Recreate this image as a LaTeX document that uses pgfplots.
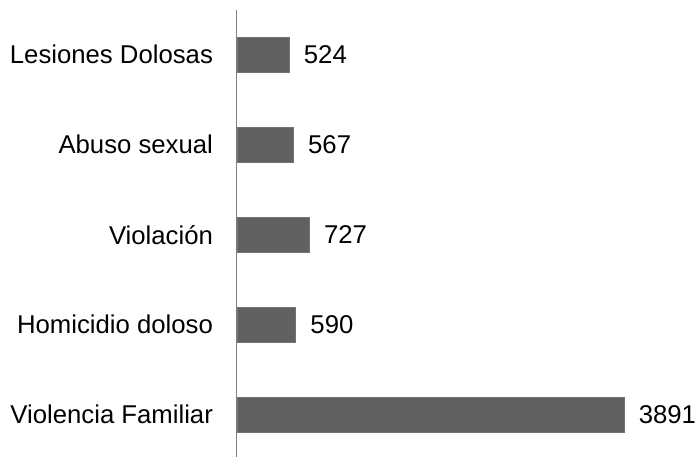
\documentclass[border=0pt]{standalone}
\usepackage{fontspec}
\setmainfont{Liberation Sans}
\usepackage{pgfplots}
\pgfplotsset{compat=1.18}

\begin{document}
\begin{tikzpicture}
\begin{axis}[
    at={(0,0)}, anchor=south west,
    scale only axis,
    width=343.3pt, height=335.2pt,
    xbar, bar width=26.25pt,
    xmin=0, xmax=4600,
    ymin=-0.466, ymax=4.494,
    ytick={0,1,2,3,4},
    yticklabels={Violencia Familiar, Homicidio doloso, Violación, Abuso sexual, Lesiones Dolosas},
    axis x line=none,
    axis y line*=left,
    y axis line style={draw=black!50, line width=0.8pt, -},
    ytick style={draw=none},
    yticklabel style={font=\fontsize{19.3}{23}\selectfont, inner xsep=0pt, xshift=-13.5pt},
    nodes near coords,
    nodes near coords style={font=\fontsize{19.3}{23}\selectfont, anchor=west, inner xsep=0pt, xshift=11pt,
        /pgf/number format/assume math mode=true, /pgf/number format/1000 sep={}},
    clip=false,
]
\addplot[fill=black!62, draw=black!55] coordinates {(3891,0) (590,1) (727,2) (567,3) (524,4)};
\end{axis}
\useasboundingbox (-177.75pt,0) rectangle (344.25pt,342.75pt);
\end{tikzpicture}
\end{document}
